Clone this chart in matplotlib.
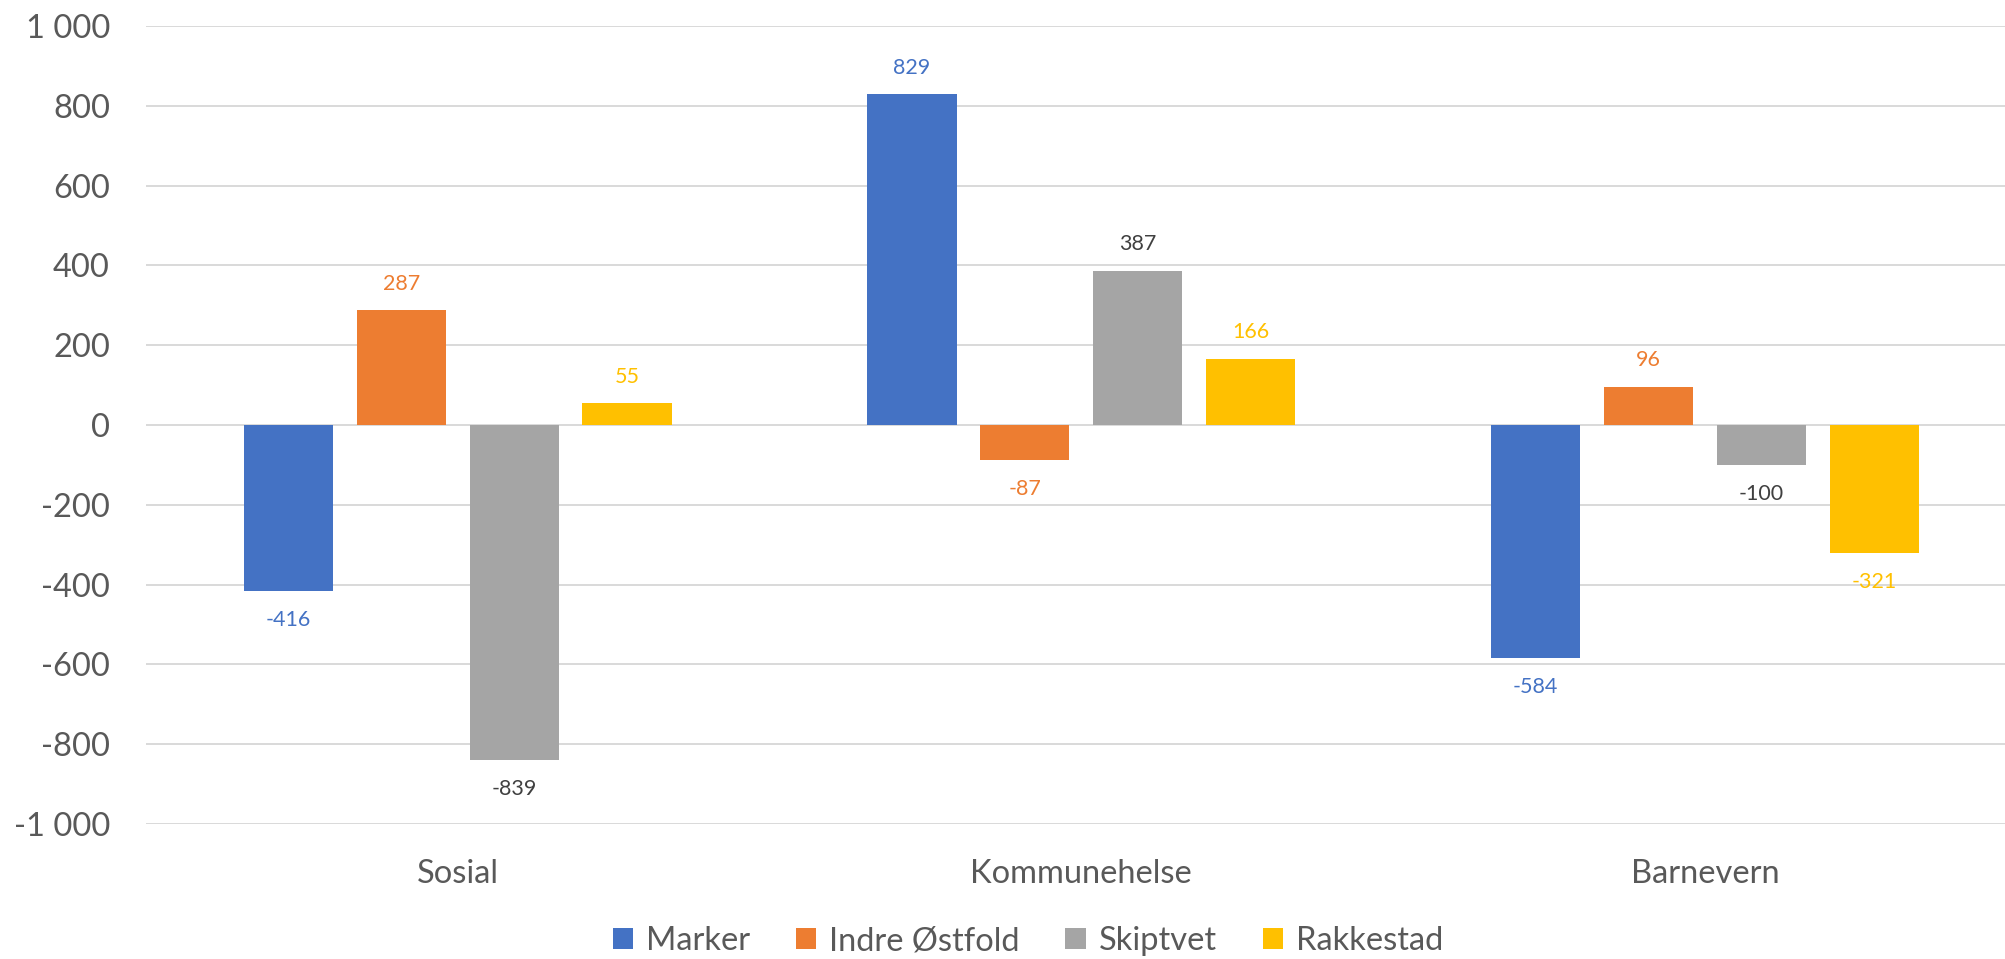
import numpy as np
import matplotlib
matplotlib.use('Agg')
import matplotlib.pyplot as plt

plt.rcParams['font.family'] = ['Lato', 'DejaVu Sans']

categories = ['Sosial', 'Kommunehelse', 'Barnevern']
series = ['Marker', 'Indre Østfold', 'Skiptvet', 'Rakkestad']
marker = [-416, 829, -584]
indre_ostfold = [287, -87, 96]
skiptvet = [-839, 387, -100]
rakkestad = [55, 166, -321]
yticks = [-1000, -800, -600, -400, -200, 0, 200, 400, 600, 800, 1000]
ytick_labels = ['-1 000', '-800', '-600', '-400', '-200', '0', '200', '400', '600', '800', '1 000']

colors = ['#4472C4', '#ED7D31', '#A5A5A5', '#FFC000']
label_colors = ['#4472C4', '#ED7D31', '#404040', '#FFC000']
text_grey = '#595959'

fig = plt.figure(figsize=(20.06, 9.59), dpi=100)
ax = fig.add_axes([146 / 2006, 135 / 959, 1 - 146 / 2006, 798 / 959])

x = np.arange(len(categories))
pitch = 0.181
width = 0.143
values = [marker, indre_ostfold, skiptvet, rakkestad]
for i, (name, vals) in enumerate(zip(series, values)):
    pos = x + (i - 1.5) * pitch
    ax.bar(pos, vals, width=width, color=colors[i], label=name, zorder=3)
    for px_, v in zip(pos, vals):
        off = 19 if v >= 0 else -21
        ax.annotate(f'{v}', (px_, v), xytext=(0, off), textcoords='offset points',
                    ha='center', va='center', fontsize=15.5, color=label_colors[i])

ax.set_xlim(-0.5, 2.483)
ax.set_ylim(-1000, 1000)
ax.set_yticks(yticks)
ax.set_yticklabels(ytick_labels)
ax.set_xticks(x)
ax.set_xticklabels(categories)
ax.tick_params(axis='y', length=0, pad=26, labelsize=23.5, labelcolor=text_grey)
ax.tick_params(axis='x', length=0, pad=25, labelsize=23.5, labelcolor=text_grey)
ax.grid(axis='y', color='#D9D9D9', linewidth=1.4, zorder=0)
ax.set_axisbelow(True)
for s in ax.spines.values():
    s.set_visible(False)

fig.legend(loc='center', bbox_to_anchor=(1028 / 2006, 1 - 941 / 959), ncol=4,
           frameon=False, fontsize=23.5, labelcolor=text_grey,
           handlelength=0.62, handleheight=0.62, handletextpad=0.4, columnspacing=1.4)

fig.savefig('out.png', dpi=100)
